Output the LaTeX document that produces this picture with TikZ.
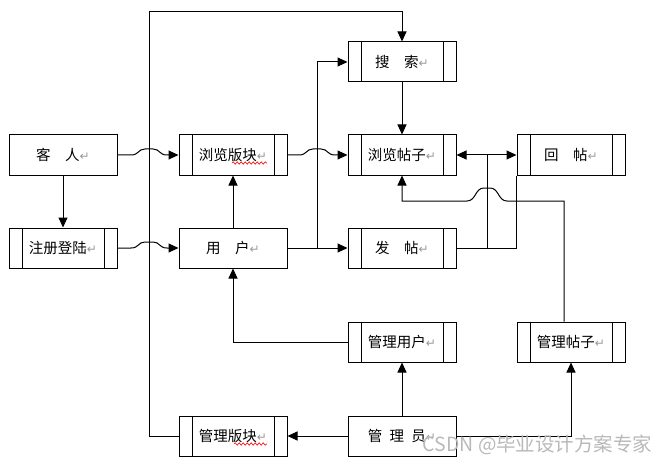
\documentclass[tikz,border=0pt]{standalone}
\usepackage{fontspec}
\setmainfont{Noto Sans CJK SC}
\newfontfamily\retfont{DejaVu Sans}
\usetikzlibrary{arrows.meta,decorations.pathmorphing}
\newcommand\pmark{{\retfont\color{gray!80}\fontsize{12}{12}\selectfont ↵}}

\begin{document}
\begin{tikzpicture}[x=1pt,y=-1pt]
\tikzstyle{every node}=[font=\fontsize{14.5}{16}\selectfont]
\tikzstyle{box}=[draw, line width=1pt, minimum width=108pt, minimum height=40pt, inner sep=0pt]
\tikzstyle{proc}=[box, path picture={
  \draw[line width=1pt] ([xshift=13pt]path picture bounding box.north west) -- ([xshift=13pt]path picture bounding box.south west);
  \draw[line width=1pt] ([xshift=-13pt]path picture bounding box.north east) -- ([xshift=-13pt]path picture bounding box.south east);}]
\tikzstyle{arr}=[line width=1pt, -{Triangle[length=10pt,width=9pt]}]
\tikzstyle{wave}=[red, line width=.6pt, decorate, decoration={snake, amplitude=1.2pt, segment length=4pt}]
\useasboundingbox (0,0) rectangle (671,465);
\draw (63,155) node (guest) [box] {客　人\pmark};
\draw (63,248) node (reg) [proc] {注册登陆\pmark};
\draw (233,155) node (board) [proc] {浏览版块\pmark};
\draw (233,248) node (user) [box] {用　户\pmark};
\draw (402,62) node (search) [proc] {搜　索\pmark};
\draw (402,155) node (posts) [proc] {浏览帖子\pmark};
\draw (571,155) node (reply) [proc] {回　帖\pmark};
\draw (402,248) node (post) [proc] {发　帖\pmark};
\draw (402,342) node (mguser) [proc] {管理用户\pmark};
\draw (571,342) node (mgpost) [proc] {管理帖子\pmark};
\draw (233,436) node (mgboard) [proc] {管理版块\pmark};
\draw (402,436) node (admin) [box] {管\enspace 理\enspace 员\pmark};
\draw[arr] (guest) -- (reg);
\draw[arr] (guest.east) -- (131,155) .. controls (139,155) and (138,149) .. (145,149) -- (153,149) .. controls (160,149) and (159,155) .. (167,155) -- (board.west);
\draw[arr] (reg.east) -- (131,248) .. controls (139,248) and (138,242) .. (145,242) -- (153,242) .. controls (160,242) and (159,248) .. (167,248) -- (user.west);
\draw[arr] (user) -- (board);
\draw[arr] (board.east) -- (299,155) .. controls (307,155) and (306,149) .. (313,149) -- (321,149) .. controls (328,149) and (327,155) .. (335,155) -- (posts.west);
\draw[arr] (user.east) -- (post.west);
\draw[arr] (user.east) -- (317,248) |- (search.west);
\draw[arr] (search) -- (posts);
\draw[arr] (post.east) -- (487,248) |- (posts.east);
\draw[arr] (post.east) -- (487,248) |- (reply.west);
\draw[line width=1pt] (post.east) -| (reply.south west);
\draw[arr] ([xshift=-7pt]mgpost.north) -- (564,201) -- (507,201) .. controls (498,201) and (499,188) .. (490,188) -- (484,188) .. controls (475,188) and (476,201) .. (467,201) -- (402,201) -- (posts.south);
\draw[arr] (mguser.west) -| (user.south);
\draw[arr] (admin) -- (mguser);
\draw[arr] (admin) -- (mgboard);
\draw[arr] (admin.east) -| (mgpost.south);
\draw[arr] (mgboard.west) -| (149,12) -| (search.north);
% spell-check waves
\draw[wave] ([shift={(-1,8)}]board.center) -- ([shift={(34,8)}]board.center);
\draw[wave] ([shift={(1,8)}]mgboard.center) -- ([shift={(34,8)}]mgboard.center);
\draw (656,445) node (wm) [anchor=east, text=gray!55, font=\fontsize{19.5}{21}\selectfont] {CSDN @毕业设计方案专家};
\end{tikzpicture}
\end{document}
